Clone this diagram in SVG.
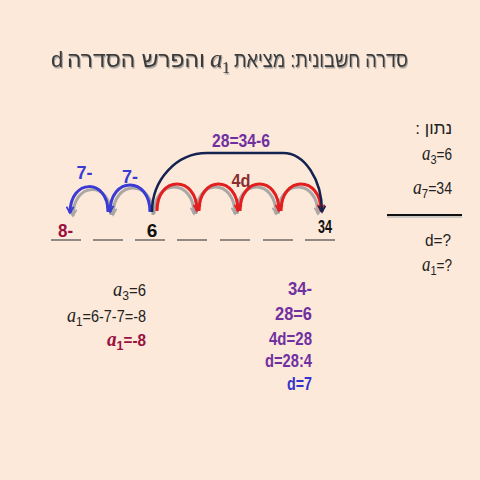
<svg xmlns="http://www.w3.org/2000/svg" width="480" height="480" viewBox="0 0 480 480">
<defs>
<style>
.he{font-family:"Liberation Sans","DejaVu Sans",sans-serif;}
.reg{font-family:"Liberation Sans",Arial,sans-serif;font-size:16px;}
.num{font-family:"Liberation Sans",Arial,sans-serif;font-weight:bold;font-size:19px;}
.it{font-family:"Liberation Serif","DejaVu Serif",serif;font-style:italic;}
.up{font-family:"Liberation Serif","DejaVu Serif",serif;font-style:normal;}
.seg{stroke:#555;stroke-width:1.3;}
.blue{fill:none;stroke:#3b3bd4;stroke-width:3;marker-end:url(#ab);}
.red{fill:none;stroke:#e31e1e;stroke-width:3;marker-end:url(#ar);}
.shadow{fill:none;stroke:#9c9c9c;stroke-width:3;opacity:0.85;marker-end:url(#ag);}
.navy{fill:none;stroke:#14234f;stroke-width:2.5;marker-end:url(#an);}
</style>
<filter id="ts" x="-5%" y="-20%" width="110%" height="150%">
<feDropShadow dx="1" dy="1.5" stdDeviation="0.7" flood-color="#8a8a8a" flood-opacity="0.8"/>
</filter>
<marker id="ab" viewBox="0 0 10 10" refX="8" refY="5" markerWidth="3" markerHeight="3" orient="auto" markerUnits="strokeWidth"><path d="M1,1 L8,5 L1,9" fill="none" stroke="#3b3bd4" stroke-width="2"/></marker>
<marker id="ar" viewBox="0 0 10 10" refX="8" refY="5" markerWidth="3" markerHeight="3" orient="auto" markerUnits="strokeWidth"><path d="M1,1 L8,5 L1,9" fill="none" stroke="#e31e1e" stroke-width="2"/></marker>
<marker id="ag" viewBox="0 0 10 10" refX="8" refY="5" markerWidth="3" markerHeight="3" orient="auto" markerUnits="strokeWidth"><path d="M1,1 L8,5 L1,9" fill="none" stroke="#9c9c9c" stroke-width="2"/></marker>
<marker id="an" viewBox="0 0 10 10" refX="8" refY="5" markerWidth="3.5" markerHeight="3.5" orient="auto" markerUnits="strokeWidth"><path d="M1,1 L8,5 L1,9" fill="none" stroke="#14234f" stroke-width="2"/></marker>
</defs>
<rect width="480" height="480" fill="#fce9da"/>

<g id="title" filter="url(#ts)" style="fill:#3a3a3a">
<text class="he" x="321" y="67" font-size="22" text-anchor="middle" textLength="174" lengthAdjust="spacingAndGlyphs">סדרה חשבונית: מציאת</text>
<text class="it" x="210" y="67" font-size="25">a</text>
<text class="up" x="222" y="73" font-size="16">1</text>
<text class="he" x="136" y="67" font-size="22" text-anchor="middle" textLength="138" lengthAdjust="spacingAndGlyphs">והפרש הסדרה</text>
<text class="he" x="57" y="67" font-size="22" text-anchor="middle">d</text>
</g>

<g id="number-line">
<line class="seg" x1="51" y1="240" x2="81" y2="240"/>
<line class="seg" x1="93" y1="240" x2="123" y2="240"/>
<line class="seg" x1="135" y1="240" x2="165" y2="240"/>
<line class="seg" x1="177" y1="240" x2="207" y2="240"/>
<line class="seg" x1="220" y1="240" x2="250" y2="240"/>
<line class="seg" x1="263" y1="240" x2="293" y2="240"/>
<line class="seg" x1="305" y1="240" x2="335" y2="240"/>
<text class="num" x="65.5" y="237" text-anchor="middle" style="fill:#990f3d" textLength="15" lengthAdjust="spacingAndGlyphs">8-</text>
<text class="num" x="152" y="237" text-anchor="middle" style="fill:#111" font-size="18">6</text>
<text class="num" x="325" y="233" text-anchor="middle" style="fill:#111" font-size="18" textLength="14" lengthAdjust="spacingAndGlyphs">34</text>
</g>

<g id="connectors">
<g transform="translate(3,3)">
<path class="shadow" d="M150,212 C150,176 110,176 110,212"/>
<path class="shadow" d="M108,212 C108,178 70,178 70,213"/>
</g>
<path class="blue" d="M150,212 C150,176 110,176 110,212"/>
<path class="blue" d="M108,212 C108,178 70,178 70,213"/>
<g transform="translate(-3,3)">
<path class="shadow" d="M157,211 C157,175 197,175 197,211"/>
<path class="shadow" d="M199,211 C199,175 238,175 238,211"/>
<path class="shadow" d="M240,211 C240,175 279,175 279,211"/>
<path class="shadow" d="M281,211 C281,175 321,175 321,211"/>
</g>
<path class="red" d="M157,211 C157,175 197,175 197,211"/>
<path class="red" d="M199,211 C199,175 238,175 238,211"/>
<path class="red" d="M240,211 C240,175 279,175 279,211"/>
<path class="red" d="M281,211 C281,175 321,175 321,211"/>
<path class="navy" d="M152,212 A55,59 0 0 1 207,153 L283,153 A39,59 0 0 1 322,212"/>
</g>

<g id="arc-labels">
<text class="num" x="84.5" y="179" text-anchor="middle" style="fill:#3b3bd4" font-size="18" textLength="16" lengthAdjust="spacingAndGlyphs">7-</text>
<text class="num" x="130" y="183" text-anchor="middle" style="fill:#3b3bd4" font-size="18" textLength="16" lengthAdjust="spacingAndGlyphs">7-</text>
<text class="num" x="241" y="187" text-anchor="middle" style="fill:#8b2f2f" font-size="21" textLength="19" lengthAdjust="spacingAndGlyphs">4d</text>
<text class="num" x="241" y="147" text-anchor="middle" style="fill:#7030a0" font-size="20" textLength="58" lengthAdjust="spacingAndGlyphs">28=34-6</text>
</g>

<g id="given" style="fill:#222">
<text class="he" x="452" y="134" font-size="17" direction="rtl" text-anchor="start">נתון :</text>
<text class="reg" x="452" y="160" text-anchor="end" textLength="30" lengthAdjust="spacingAndGlyphs"><tspan class="it" font-size="20">a</tspan><tspan font-size="13" dy="4">3</tspan><tspan dy="-4">=6</tspan></text>
<text class="reg" x="452" y="194" text-anchor="end" textLength="39" lengthAdjust="spacingAndGlyphs"><tspan class="it" font-size="20">a</tspan><tspan font-size="13" dy="4">7</tspan><tspan dy="-4">=34</tspan></text>
<line x1="387" y1="217" x2="462" y2="217" stroke="#bbb" stroke-width="1.5"/>
<line x1="387" y1="215" x2="462" y2="215" stroke="#111" stroke-width="2"/>
<text class="reg" x="451" y="246" text-anchor="end" textLength="26" lengthAdjust="spacingAndGlyphs">d=?</text>
<text class="reg" x="452" y="271" text-anchor="end" textLength="30" lengthAdjust="spacingAndGlyphs"><tspan class="it" font-size="20">a</tspan><tspan font-size="13" dy="4">1</tspan><tspan dy="-4">=?</tspan></text>
</g>

<g id="solve-a1">
<text class="reg" x="146" y="296" text-anchor="end" style="fill:#222" textLength="33" lengthAdjust="spacingAndGlyphs"><tspan class="it" font-size="20">a</tspan><tspan font-size="13" dy="4">3</tspan><tspan dy="-4">=6</tspan></text>
<text class="reg" x="146" y="322" text-anchor="end" style="fill:#222" textLength="79" lengthAdjust="spacingAndGlyphs"><tspan class="it" font-size="20">a</tspan><tspan font-size="13" dy="4">1</tspan><tspan dy="-4">=6-7-7=-8</tspan></text>
<text class="reg" x="146" y="346" text-anchor="end" style="fill:#9a1040;font-weight:bold" textLength="39" lengthAdjust="spacingAndGlyphs"><tspan class="it" font-size="20">a</tspan><tspan font-size="13" dy="4">1</tspan><tspan dy="-4">=-8</tspan></text>
</g>

<g id="solve-d" style="fill:#7030a0">
<text class="num" x="312" y="295" text-anchor="end" textLength="24" lengthAdjust="spacingAndGlyphs">34-</text>
<text class="num" x="312" y="320" text-anchor="end" textLength="37" lengthAdjust="spacingAndGlyphs">28=6</text>
<text class="num" x="312" y="345" text-anchor="end" textLength="43" lengthAdjust="spacingAndGlyphs">4d=28</text>
<text class="num" x="312" y="367" text-anchor="end" textLength="47" lengthAdjust="spacingAndGlyphs">d=28:4</text>
<text class="num" x="312" y="390" text-anchor="end" style="fill:#3333cc" textLength="25" lengthAdjust="spacingAndGlyphs">d=7</text>
</g>
</svg>
